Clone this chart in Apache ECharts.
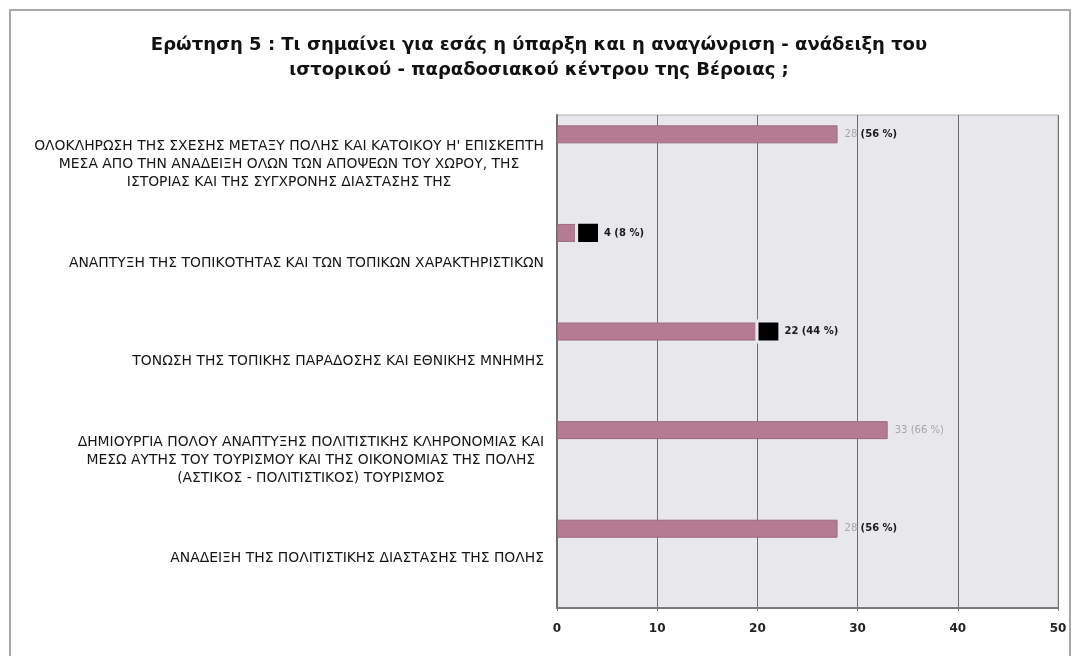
<!DOCTYPE html>
<html><head><meta charset="utf-8">
<script src="https://cdn.jsdelivr.net/npm/echarts@6/dist/echarts.min.js"></script>
<style>html,body{margin:0;padding:0;background:#fff}#c{width:1078px;height:656px}</style>
</head><body><div id="c"></div>
<script>
const titleText = 'Ερώτηση 5 : Τι σημαίνει για εσάς η ύπαρξη και η αναγώνριση - ανάδειξη του\nιστορικού - παραδοσιακού κέντρου της Βέροιας ;';
const categories = [
  "ΟΛΟΚΛΗΡΩΣΗ ΤΗΣ ΣΧΕΣΗΣ ΜΕΤΑΞΥ ΠΟΛΗΣ ΚΑΙ ΚΑΤΟΙΚΟΥ Η' ΕΠΙΣΚΕΠΤΗ\nΜΕΣΑ ΑΠΟ ΤΗΝ ΑΝΑΔΕΙΞΗ ΟΛΩΝ ΤΩΝ ΑΠΟΨΕΩΝ ΤΟΥ ΧΩΡΟΥ, ΤΗΣ\nΙΣΤΟΡΙΑΣ ΚΑΙ ΤΗΣ ΣΥΓΧΡΟΝΗΣ ΔΙΑΣΤΑΣΗΣ ΤΗΣ",
  "ΑΝΑΠΤΥΞΗ ΤΗΣ ΤΟΠΙΚΟΤΗΤΑΣ ΚΑΙ ΤΩΝ ΤΟΠΙΚΩΝ ΧΑΡΑΚΤΗΡΙΣΤΙΚΩΝ",
  "ΤΟΝΩΣΗ ΤΗΣ ΤΟΠΙΚΗΣ ΠΑΡΑΔΟΣΗΣ ΚΑΙ ΕΘΝΙΚΗΣ ΜΝΗΜΗΣ",
  "ΔΗΜΙΟΥΡΓΙΑ ΠΟΛΟΥ ΑΝΑΠΤΥΞΗΣ ΠΟΛΙΤΙΣΤΙΚΗΣ ΚΛΗΡΟΝΟΜΙΑΣ ΚΑΙ\nΜΕΣΩ ΑΥΤΗΣ ΤΟΥ ΤΟΥΡΙΣΜΟΥ ΚΑΙ ΤΗΣ ΟΙΚΟΝΟΜΙΑΣ ΤΗΣ ΠΟΛΗΣ\n(ΑΣΤΙΚΟΣ - ΠΟΛΙΤΙΣΤΙΚΟΣ) ΤΟΥΡΙΣΜΟΣ",
  "ΑΝΑΔΕΙΞΗ ΤΗΣ ΠΟΛΙΤΙΣΤΙΚΗΣ ΔΙΑΣΤΑΣΗΣ ΤΗΣ ΠΟΛΗΣ"
];
const values = [28, 4, 22, 33, 28];
const percents = [56, 8, 44, 66, 56];
const highlighted = [false, true, true, false, false];
const valueTone = ['g', 'd', 'd', 'g', 'g'];
const percentTone = ['d', 'd', 'd', 'g', 'd'];
const xMin = 0, xMax = 50, xStep = 10;

const FONT = 'DejaVu Sans';
const barData = values.map((v, i) => ({
  value: v,
  label: {
    formatter: '{v' + valueTone[i] + '|' + v + '} {p' + percentTone[i] + '|(' + percents[i] + ' %)}'
  }
}));
const squareData = values.map((v, i) => highlighted[i] ? [v, i] : null).filter(d => d);

const chart = echarts.init(document.getElementById('c'), null, {renderer: 'canvas'});
chart.setOption({
  backgroundColor: '#ffffff',
  animation: false,
  graphic: [{
    type: 'rect', shape: {x: 10, y: 10, width: 1060, height: 700},
    style: {fill: 'none', stroke: '#a8a8a8', lineWidth: 2}, z: -10
  }],
  title: {
    text: titleText, left: 'center', top: 28,
    textStyle: {fontFamily: FONT, fontSize: 18, fontWeight: 'bold', color: '#111', lineHeight: 25}
  },
  grid: {
    left: 557, right: 20, top: 115, bottom: 48,
    show: true, backgroundColor: '#e7e7ec', borderColor: '#b4b4b4', borderWidth: 1
  },
  xAxis: {
    type: 'value', min: xMin, max: xMax, interval: xStep,
    axisLine: {show: true, lineStyle: {color: '#7a7a7a', width: 2}},
    axisTick: {show: true, length: 3, lineStyle: {color: '#7a7a7a'}},
    splitLine: {show: true, lineStyle: {color: '#6e6e6e', width: 1}},
    axisLabel: {fontFamily: FONT, fontSize: 12, fontWeight: 'bold', color: '#222', margin: 15}
  },
  yAxis: {
    type: 'category', data: categories, inverse: true,
    axisTick: {show: false},
    axisLine: {show: true, lineStyle: {color: '#6e6e6e', width: 2}},
    axisLabel: {
      margin: 13, align: 'right',
      formatter: (s) => s.split('\n').map(l => '{c|' + l + '}').join('\n'),
      rich: {c: {align: 'center', fontFamily: FONT, fontSize: 13.9, lineHeight: 18, color: '#151515'}}
    }
  },
  series: [
    {
      type: 'bar', data: barData, barWidth: 18, barGap: '233%',
      itemStyle: {color: '#b47b92', borderColor: '#9c6a80', borderWidth: 1},
      label: {
        show: true, position: 'right', distance: 7,
        rich: {
          vg: {fontFamily: FONT, fontSize: 10, color: '#a8a8a8'},
          vd: {fontFamily: FONT, fontSize: 10, fontWeight: 'bold', color: '#1a1a1a'},
          pg: {fontFamily: FONT, fontSize: 10, color: '#a8a8a8'},
          pd: {fontFamily: FONT, fontSize: 10, fontWeight: 'bold', color: '#1a1a1a'}
        }
      },
      z: 2
    },
    {
      type: 'bar', data: values.map(() => 0), barWidth: 18,
      itemStyle: {color: 'rgba(0,0,0,0)', borderWidth: 0}, silent: true
    },
    {
      type: 'scatter', data: squareData, symbol: 'rect', symbolSize: [23, 21],
      symbolOffset: [-9, -30],
      itemStyle: {color: '#000', borderColor: '#e7e7ec', borderWidth: 3, opacity: 1},
      z: 5, silent: true
    }
  ]
});
</script></body></html>
